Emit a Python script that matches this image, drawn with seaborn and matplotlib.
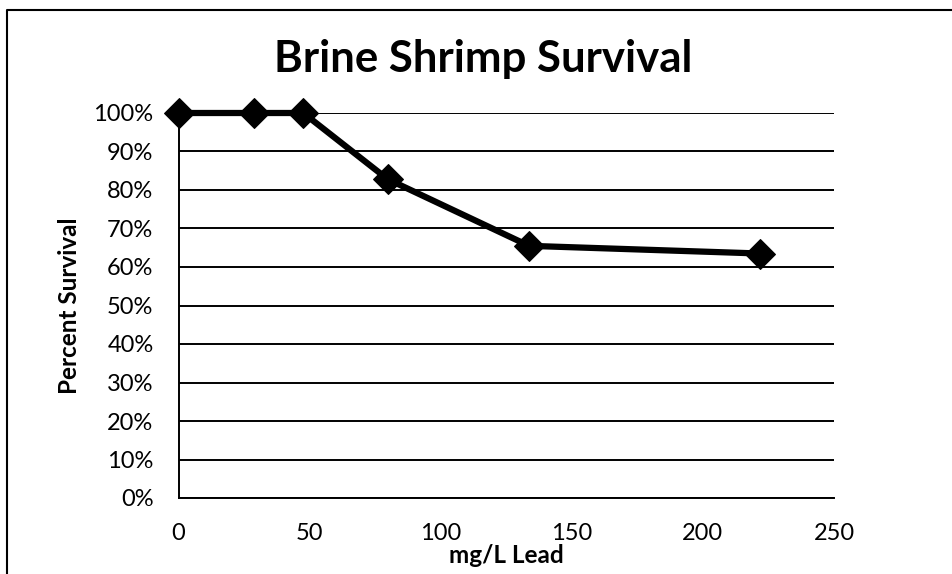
import matplotlib
matplotlib.use("Agg")
import matplotlib.pyplot as plt
from matplotlib.lines import Line2D
from matplotlib.ticker import PercentFormatter
import seaborn as sns
import pandas as pd

# Lead concentration (mg/L) and brine shrimp survival (%)
lead_mg_per_l = [0, 28.7, 47.6, 79.8, 133.7, 221.8]
survival_pct = [100, 100, 100, 82.8, 65.5, 63.5]

x_ticks = [0, 50, 100, 150, 200, 250]
y_ticks = [0, 10, 20, 30, 40, 50, 60, 70, 80, 90, 100]

title_text = "Brine Shrimp Survival"
x_label = "mg/L Lead"
y_label = "Percent Survival"

sns.set_theme(style="white")
plt.rcParams["font.family"] = ["Lato", "DejaVu Sans"]

df = pd.DataFrame({"lead": lead_mg_per_l, "survival": survival_pct})

W, H = 953, 574
fig = plt.figure(figsize=(W / 100, H / 100), dpi=100)
fig.patch.set_facecolor("white")
ax_w = 834 - 178.5
ax_h = 498 - 113
ax = fig.add_axes([178.5 / W, 1 - 498 / H, ax_w / W, ax_h / H])

sns.lineplot(data=df, x="lead", y="survival", ax=ax, color="black",
             linewidth=4.5, marker="D", markersize=15, markeredgecolor="black",
             markerfacecolor="black", clip_on=False, zorder=5)

ax.set_xlim(0, 250)
ax.set_ylim(0, 100)
ax.set_xticks(x_ticks)
ax.set_yticks(y_ticks)
ax.yaxis.set_major_formatter(PercentFormatter(decimals=0))

ax.grid(axis="y", color="black", linewidth=1.4)
ax.grid(axis="x", visible=False)
ax.set_axisbelow(True)

for side in ["top", "right"]:
    ax.spines[side].set_visible(False)
for side in ["left", "bottom"]:
    ax.spines[side].set_color("black")
    ax.spines[side].set_linewidth(1.4)

ax.tick_params(axis="both", length=0, labelsize=17, labelcolor="black")
ax.tick_params(axis="y", pad=18)
ax.tick_params(axis="x", pad=18)

ax.set_xlabel(x_label, fontsize=17.5, fontweight="bold", color="black")
ax.set_ylabel(y_label, fontsize=17.5, fontweight="bold", color="black")
ax.xaxis.set_label_coords(0.5, (498 - 544) / ax_h)
ax.yaxis.set_label_coords((81 - 178.5) / ax_w, 0.5)

fig.text(483 / W, 1 - 59 / H, title_text, ha="center", va="center",
         fontsize=31.5, fontweight="bold", color="black")

# chart-area frame (top and left edges)
fig.add_artist(Line2D([7 / W, 7 / W, 1.0], [0.0, 1 - 10 / H, 1 - 10 / H],
                      transform=fig.transFigure, color="black", linewidth=1.5))

fig.savefig("out.png", dpi=100, facecolor="white")
